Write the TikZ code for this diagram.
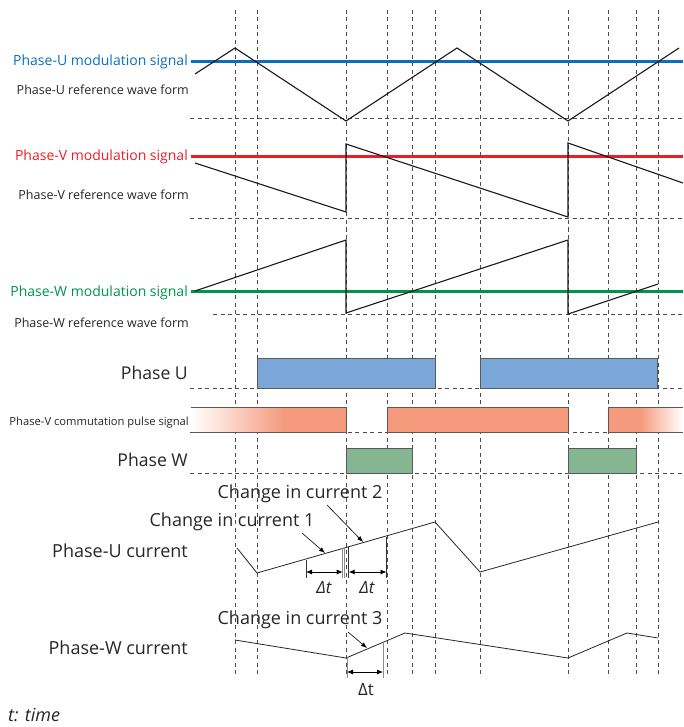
\documentclass[tikz,border=0pt]{standalone}
\usepackage{fontspec}
\setmainfont{Open Sans}
\usetikzlibrary{arrows.meta}
\definecolor{modu}{HTML}{0A6FBF}
\definecolor{modv}{HTML}{EE1C25}
\definecolor{modw}{HTML}{00934A}
\definecolor{baru}{HTML}{7BA6D8}
\definecolor{barv}{HTML}{F59A7C}
\definecolor{barw}{HTML}{86B592}
\tikzset{
	vgrid/.style={dash pattern=on 4pt off 3.5pt,black!70,line width=0.7pt},
	modline/.style={line width=3pt},
	wave/.style={black!90,line width=1.1pt},
	bar/.style={draw=black!65,line width=0.8pt},
	cur/.style={black!85,line width=0.8pt},
	tick/.style={black!80,line width=0.8pt},
	gtick/.style={black!45,line width=0.9pt},
	dim/.style={{Latex[length=6pt,width=5pt]}-{Latex[length=6pt,width=5pt]},line width=0.8pt},
	ptr/.style={-{Latex[length=6pt,width=4.5pt]},line width=0.6pt},
	modlbl/.style={anchor=east,font=\fontsize{14}{16}\selectfont,inner sep=1pt},
	reflbl/.style={anchor=east,font=\fontsize{12.5}{14}\selectfont,text=black!85,inner sep=1pt},
	phlbl/.style={anchor=east,font=\fontsize{17.6}{20}\selectfont,text=black!85,inner sep=1pt},
	curlbl/.style={font=\fontsize{18}{20}\selectfont,text=black!85,inner sep=1pt},
	dtlbl/.style={font=\fontsize{17}{19}\selectfont,text=black!85,inner sep=1pt}
}
\begin{document}
\begin{tikzpicture}[x=1pt,y=-1pt]
	\useasboundingbox (0,0) rectangle (683,727);
	% grid
	\foreach \x in {235,257,346,387,412,435,480,568,608,636,658}
	\draw[vgrid] (\x,10) -- (\x,676);
	\foreach \y/\s in {118/190,218/190,314/213,388/190,432/190,473/190}
	\draw[vgrid] (\s,\y) -- (683,\y);
	% modulation signals and reference waves
	\draw[modline,modu] (191,62) -- (683,62);
	\draw[modline,modv] (191,157) -- (683,157);
	\draw[modline,modw] (191,291) -- (683,291);
	\draw[wave] (195,74) -- (235,48) -- (346,121) -- (457,48) -- (568,121) -- (679,48);
	\draw[wave] (195,163) -- (346,212) -- (346,144) -- (568,217) -- (568,143) -- (683,183);
	\draw[wave] (195,291) -- (346,240) -- (346,313) -- (568,240) -- (568,314) -- (658,284);
	\node[modlbl,text=modu] (modU) at (189,62) {Phase-U modulation signal};
	\node[reflbl] (refU) at (190,90) {Phase-U reference wave form};
	\node[modlbl,text=modv] (modV) at (189,157) {Phase-V modulation signal};
	\node[reflbl] (refV) at (190,195) {Phase-V reference wave form};
	\node[modlbl,text=modw] (modW) at (189,293) {Phase-W modulation signal};
	\node[reflbl] (refW) at (190,323) {Phase-W reference wave form};
	% bars
	\draw[bar,fill=baru] (257,358) rectangle (435,388);
	\draw[bar,fill=baru] (480,358) rectangle (657,388);
	\shade[left color=white,right color=barv] (191,407) rectangle (285,432);
	\fill[barv] (285,407) rectangle (346,432);
	\draw[bar] (191,407) -- (346,407) -- (346,432) -- (191,432);
	\draw[bar,fill=barv] (387,407) rectangle (568,432);
	\fill[barv] (608,407) rectangle (640,432);
	\shade[left color=barv,right color=white] (640,407) rectangle (683,432);
	\draw[bar] (683,407) -- (608,407) -- (608,432) -- (683,432);
	\draw[bar,fill=barw] (346,448) rectangle (412,473);
	\draw[bar,fill=barw] (568,448) rectangle (636,473);
	\node[phlbl] (phU) at (189,373) {Phase U};
	\node[reflbl,font=\fontsize{11.2}{13}\selectfont] (comV) at (190,423) {Phase-V commutation pulse signal};
	\node[phlbl] (phW) at (189,460) {Phase W};
	% currents
	\draw[cur] (237,548) -- (257,573) -- (435,522) -- (480,572) -- (658,522);
	\draw[cur] (235,640) -- (346,658) -- (405,633) -- (568,658) -- (627,633) -- (658,638);
	\node[curlbl,anchor=east] (curU) at (189,551) {Phase-U current};
	\node[curlbl,anchor=east] (curW) at (189,648) {Phase-W current};
	\node[curlbl] (chg2) at (300,494) {Change in current 2};
	\node[curlbl] (chg1) at (232,522) {Change in current 1};
	\node[curlbl] (chg3) at (300,620) {Change in current 3};
	\coordinate (p1) at (302,533);
	\coordinate (q1) at (325,553);
	\coordinate (p2) at (327,505);
	\coordinate (q2) at (363,542);
	\coordinate (p3) at (348,632);
	\coordinate (q3) at (367,648);
	\draw[ptr] (p1) -- (q1);
	\draw[ptr] (p2) -- (q2);
	\draw[ptr] (p3) -- (q3);
	% delta t
	\draw[tick] (306,560) -- (306,578);
	\draw[gtick] (342.7,548) -- (342.7,578);
	\draw[gtick] (344.5,548) -- (344.5,578);
	\draw[tick] (348.7,547) -- (348.7,578);
	\draw[tick] (386.5,537) -- (386.5,578);
	\coordinate (a1) at (306,572);
	\coordinate (b1) at (342.7,572);
	\coordinate (a2) at (348.7,572);
	\coordinate (b2) at (386.5,572);
	\draw[dim] (a1) -- (b1);
	\draw[dim] (a2) -- (b2);
	\node[dtlbl,font=\fontsize{17}{19}\selectfont\itshape] (dt1) at (324,588) {Δt};
	\node[dtlbl,font=\fontsize{17}{19}\selectfont\itshape] (dt2) at (367,588) {Δt};
	\draw[gtick] (347,657) -- (347,678);
	\draw[gtick] (383,642) -- (383,678);
	\coordinate (a3) at (347,672);
	\coordinate (b3) at (383,672);
	\draw[dim] (a3) -- (b3);
	\node[dtlbl] (dt3) at (366,690) {Δt};
	\node[dtlbl,anchor=base west,inner sep=0pt,font=\fontsize{18}{20}\selectfont\itshape] (tt) at (8,721) {t: time};
\end{tikzpicture}
\end{document}
